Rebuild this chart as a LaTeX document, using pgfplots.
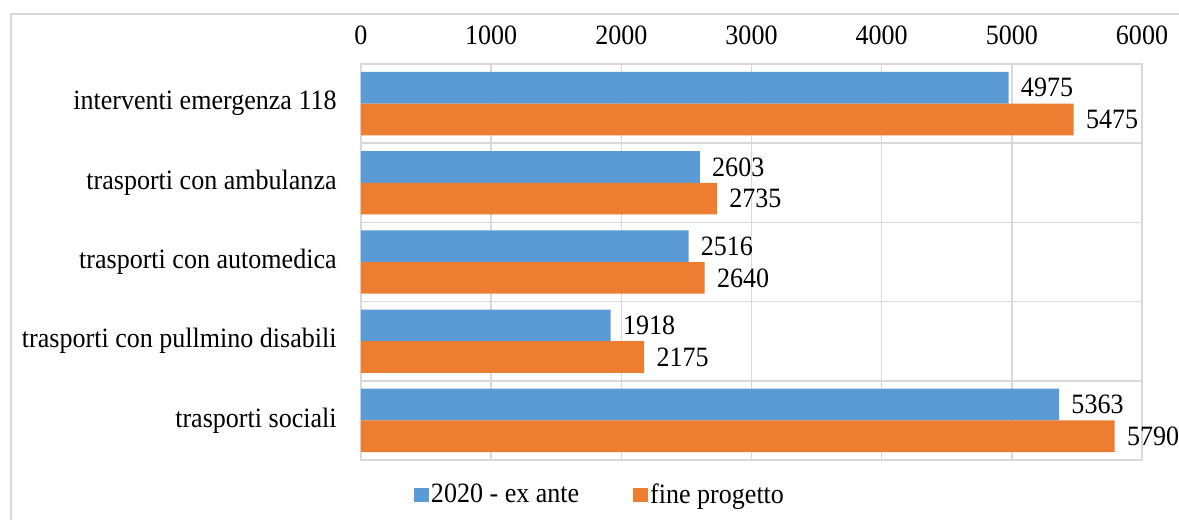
\documentclass[border=0pt]{standalone}
\usepackage{fontspec}
\setmainfont{Liberation Serif}[FakeStretch=0.93]
\usepackage{pgfplots}
\pgfplotsset{compat=1.18}
\definecolor{xblue}{HTML}{5B9BD5}
\definecolor{xorange}{HTML}{ED7D31}
\definecolor{xgrid}{HTML}{D9D9D9}
\newcommand{\cf}{\fontsize{14}{16.8}\selectfont}
\begin{document}
\begin{tikzpicture}
\useasboundingbox (0pt,0pt) rectangle (589.5pt,260pt);
\draw[xgrid, line width=1.1pt] (5.5pt,0pt) -- (5.5pt,253pt) -- (589.5pt,253pt);
\begin{axis}[
  at={(180.5pt,30pt)}, anchor=south west,
  scale only axis, width=390.5pt, height=198pt,
  xbar, xmin=0, xmax=6000, ymin=-0.5, ymax=4.5, y dir=reverse,
  ytick={0,1,2,3,4},
  minor ytick={0.5,1.5,2.5,3.5},
  yticklabels={interventi emergenza 118, trasporti con ambulanza, trasporti con automedica, trasporti con pullmino disabili, trasporti sociali},
  xtick={0,1000,2000,3000,4000,5000,6000},
  xticklabel pos=upper,
  xmajorgrids, ymajorgrids=false, yminorgrids,
  grid style={xgrid, line width=0.8pt},
  minor grid style={xgrid, line width=0.8pt},
  axis line style={xgrid, line width=0.8pt},
  major tick length=0pt, minor tick length=0pt,
  /pgf/number format/1000 sep={},
  /pgf/number format/assume math mode=true,
  xticklabel style={font=\cf, anchor=base, inner sep=0pt, yshift=10pt},
  yticklabel style={font=\cf, anchor=east, inner sep=0pt, xshift=-12pt},
  bar width=0.4,
  nodes near coords,
  nodes near coords style={font=\cf, anchor=west, inner sep=0pt, xshift=6pt, text=black},
  legend columns=2,
  legend style={at={(axis description cs:0.306,-0.0884)}, anchor=center, draw=none, fill=none, font=\cf,
    /tikz/every even column/.append style={column sep=26pt},
    nodes={inner sep=1pt}},
  legend image code/.code={\fill[#1] (0pt,-3.3pt) rectangle (7.5pt,3.3pt);},
]
\addplot[fill=xblue, draw=none, bar shift=-0.2] coordinates {(4975,0) (2603,1) (2516,2) (1918,3) (5363,4)};
\addplot[fill=xorange, draw=none, bar shift=0.2] coordinates {(5475,0) (2735,1) (2640,2) (2175,3) (5790,4)};
\legend{2020 - ex ante, fine progetto}
\end{axis}
\end{tikzpicture}
\end{document}
